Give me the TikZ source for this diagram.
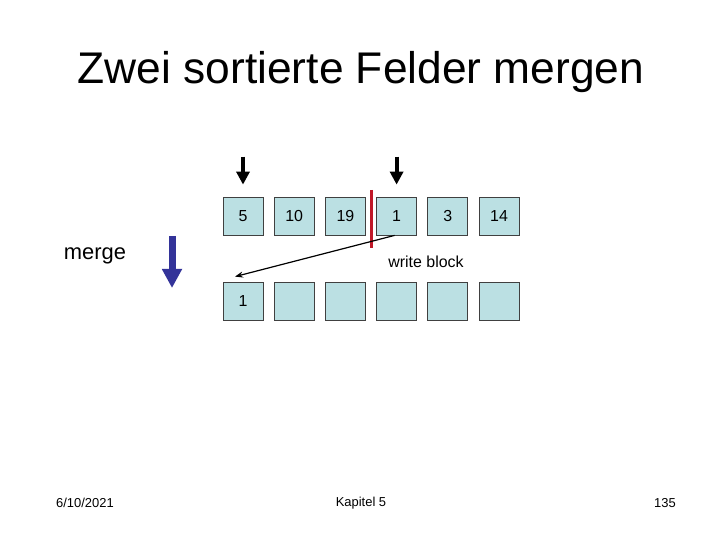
\documentclass[tikz,border=0pt]{standalone}
\usepackage{fontspec}
\setmainfont{Liberation Sans}
\usepackage{xcolor}
\usetikzlibrary{arrows.meta,positioning,calc}

\definecolor{cellfill}{RGB}{187,224,227}
\definecolor{mergeblue}{RGB}{51,51,153}
\definecolor{cutred}{RGB}{192,24,40}

\begin{document}
\begin{tikzpicture}[
x=1bp, y=-1bp,
cell/.style={draw=black!75, line width=0.8bp, fill=cellfill, minimum width=40bp, minimum height=38bp, inner sep=0pt, font=\fontsize{16}{16}\selectfont},
pointer/.style={-{Triangle[length=13bp,width=13bp]}, line width=4bp},
mergearrow/.style={-{Triangle[length=19bp,width=19bp]}, line width=7bp, mergeblue},
cut/.style={cutred, line width=3bp},
move/.style={-{Stealth[length=8bp,width=6bp]}, line width=1.2bp}
]
\useasboundingbox (0,0) rectangle (720,540);

% Title
\node[font=\fontsize{44.5}{44.5}\selectfont, anchor=base] (title) at (361,84) {Zwei sortierte Felder mergen};

% Input runs (top row)
\node[cell] (a1) at (243,216) {5};
\node[cell, right=10.4bp of a1] (a2) {10};
\node[cell, right=10.4bp of a2] (a3) {19};
\node[cell, right=10.4bp of a3] (a4) {1};
\node[cell, right=10.4bp of a4] (a5) {3};
\node[cell, right=10.4bp of a5] (a6) {14};

% Output block (bottom row)
\node[cell] (b1) at (243,301) {1};
\node[cell, right=10.4bp of b1] (b2) {};
\node[cell, right=10.4bp of b2] (b3) {};
\node[cell, right=10.4bp of b3] (b4) {};
\node[cell, right=10.4bp of b4] (b5) {};
\node[cell, right=10.4bp of b5] (b6) {};

% Labels
\node[font=\fontsize{22}{22}\selectfont] (merge) at (95,256) {merge};
\node[font=\fontsize{16}{16}\selectfont] (wb) at (426,262) {write block};

% Run pointers
\draw[pointer] ([yshift=40bp]a1.north) -- ([yshift=12bp]a1.north);
\draw[pointer] ([yshift=40bp]a4.north) -- ([yshift=12bp]a4.north);

% Boundary between the two runs
\coordinate (mid) at ($(a3.east)!0.5!(a4.west)$);
\draw[cut] ([yshift=26bp]mid) -- ([yshift=-32bp]mid);

% Merge direction
\coordinate (mtop) at (172,236);
\coordinate (mbot) at (172,288);
\draw[mergearrow] (mtop) -- (mbot);

% Smallest element goes to the output block
\draw[move] ([xshift=-2bp]a4.south) -- ([shift={(-8,-5)}]b1.north);

% Footer
\node[font=\fontsize{13}{13}\selectfont] (date) at (85,503) {6/10/2021};
\node[font=\fontsize{13}{13}\selectfont] (chap) at (361,503) {Kapitel 5};
\node[font=\fontsize{13}{13}\selectfont] (page) at (665,503) {135};

\end{tikzpicture}
\end{document}
